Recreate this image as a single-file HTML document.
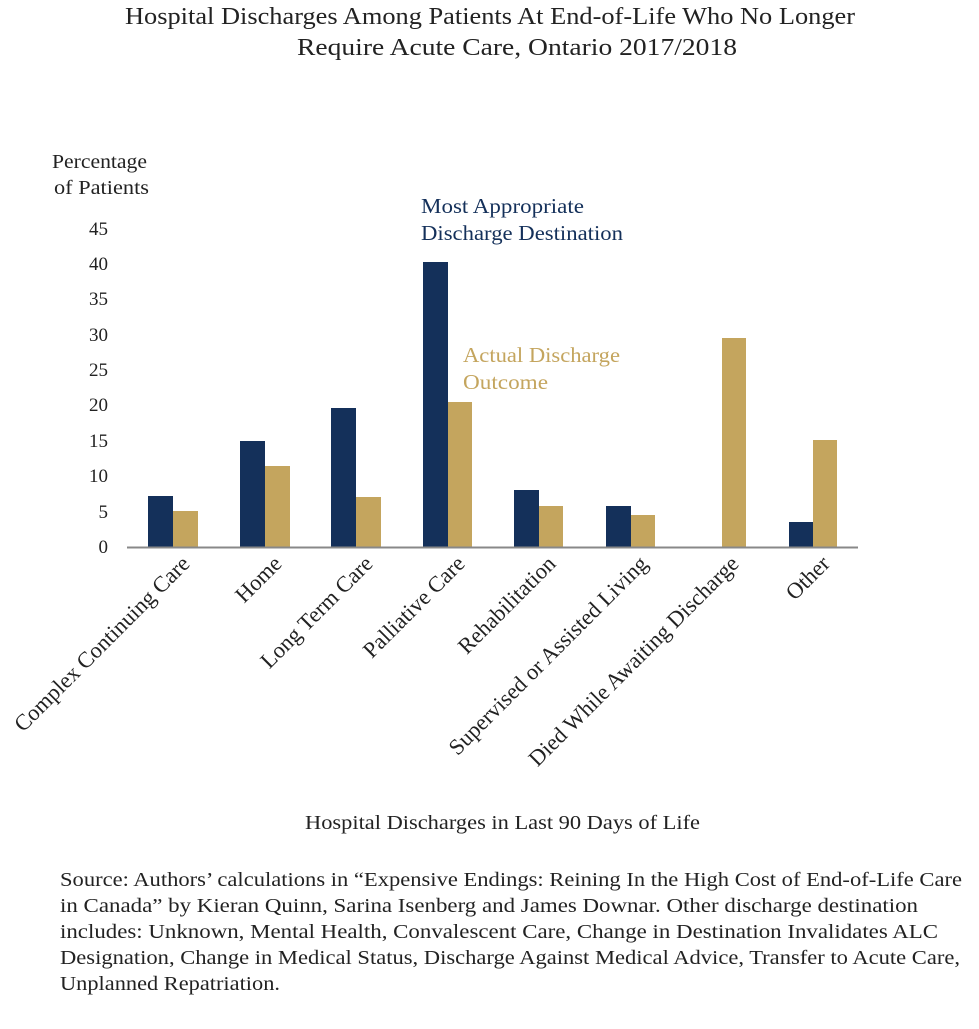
<!DOCTYPE html>
<html><head><meta charset="utf-8"><style>
body{margin:0;background:#fff;}
svg text{font-family:"Liberation Serif",serif;}
</style></head><body>
<svg width="979" height="1024" viewBox="0 0 979 1024" xmlns="http://www.w3.org/2000/svg">
<rect width="979" height="1024" fill="#fff"/>
<text x="125" y="24" font-size="24" textLength="730" lengthAdjust="spacingAndGlyphs" fill="#222">Hospital Discharges Among Patients At End-of-Life Who No Longer</text>
<text x="297" y="55" font-size="24" textLength="440" lengthAdjust="spacingAndGlyphs" fill="#222">Require Acute Care, Ontario 2017/2018</text>
<text x="52" y="168" font-size="20" textLength="95" lengthAdjust="spacingAndGlyphs" fill="#222">Percentage</text>
<text x="54" y="194" font-size="20" textLength="95" lengthAdjust="spacingAndGlyphs" fill="#222">of Patients</text>
<g font-size="19" text-anchor="end" fill="#222">
<text x="108" y="553">0</text><text x="108" y="518">5</text><text x="108" y="482">10</text>
<text x="108" y="447">15</text><text x="108" y="411">20</text><text x="108" y="376">25</text>
<text x="108" y="341">30</text><text x="108" y="305">35</text><text x="108" y="270">40</text>
<text x="108" y="235">45</text>
</g>
<text x="421" y="213" font-size="21" textLength="163" lengthAdjust="spacingAndGlyphs" fill="#14305a">Most Appropriate</text>
<text x="421" y="240" font-size="21" textLength="202" lengthAdjust="spacingAndGlyphs" fill="#14305a">Discharge Destination</text>
<text x="463" y="362" font-size="21" textLength="157" lengthAdjust="spacingAndGlyphs" fill="#c4a55e">Actual Discharge</text>
<text x="463" y="389" font-size="21" textLength="85" lengthAdjust="spacingAndGlyphs" fill="#c4a55e">Outcome</text>
<g fill="#14305a">
<rect x="148" y="496" width="25" height="51"/>
<rect x="240" y="441" width="25" height="106"/>
<rect x="331" y="408" width="25" height="139"/>
<rect x="423" y="262" width="25" height="285"/>
<rect x="514" y="490" width="25" height="57"/>
<rect x="606" y="506" width="25" height="41"/>
<rect x="789" y="522" width="24" height="25"/>
</g>
<g fill="#c4a55e">
<rect x="173" y="511" width="25" height="36"/>
<rect x="265" y="466" width="25" height="81"/>
<rect x="356" y="497" width="25" height="50"/>
<rect x="448" y="402" width="24" height="145"/>
<rect x="539" y="506" width="24" height="41"/>
<rect x="631" y="515" width="24" height="32"/>
<rect x="722" y="338" width="24" height="209"/>
<rect x="813" y="440" width="24" height="107"/>
</g>
<line x1="127" y1="547.5" x2="858" y2="547.5" stroke="#888" stroke-width="2"/>
<g font-size="22.5" text-anchor="end" fill="#222">
<text transform="translate(191,565) rotate(-45)">Complex Continuing Care</text>
<text transform="translate(283,565) rotate(-45)">Home</text>
<text transform="translate(374,565) rotate(-45)">Long Term Care</text>
<text transform="translate(466,565) rotate(-45)">Palliative Care</text>
<text transform="translate(557,565) rotate(-45)">Rehabilitation</text>
<text transform="translate(649,565) rotate(-45)">Supervised or Assisted Living</text>
<text transform="translate(740,565) rotate(-45)">Died While Awaiting Discharge</text>
<text transform="translate(831,565) rotate(-45)">Other</text>
</g>
<text x="305" y="829" font-size="20" textLength="395" lengthAdjust="spacingAndGlyphs" fill="#222">Hospital Discharges in Last 90 Days of Life</text>
<g font-size="19.5" fill="#222">
<text x="60" y="886" textLength="902" lengthAdjust="spacingAndGlyphs">Source: Authors’ calculations in “Expensive Endings: Reining In the High Cost of End-of-Life Care</text>
<text x="60" y="912" textLength="858" lengthAdjust="spacingAndGlyphs">in Canada” by Kieran Quinn, Sarina Isenberg and James Downar. Other discharge destination</text>
<text x="60" y="938" textLength="878" lengthAdjust="spacingAndGlyphs">includes: Unknown, Mental Health, Convalescent Care, Change in Destination Invalidates ALC</text>
<text x="60" y="964" textLength="900" lengthAdjust="spacingAndGlyphs">Designation, Change in Medical Status, Discharge Against Medical Advice, Transfer to Acute Care,</text>
<text x="60" y="990" textLength="220" lengthAdjust="spacingAndGlyphs">Unplanned Repatriation.</text>
</g>
</svg>
</body></html>
